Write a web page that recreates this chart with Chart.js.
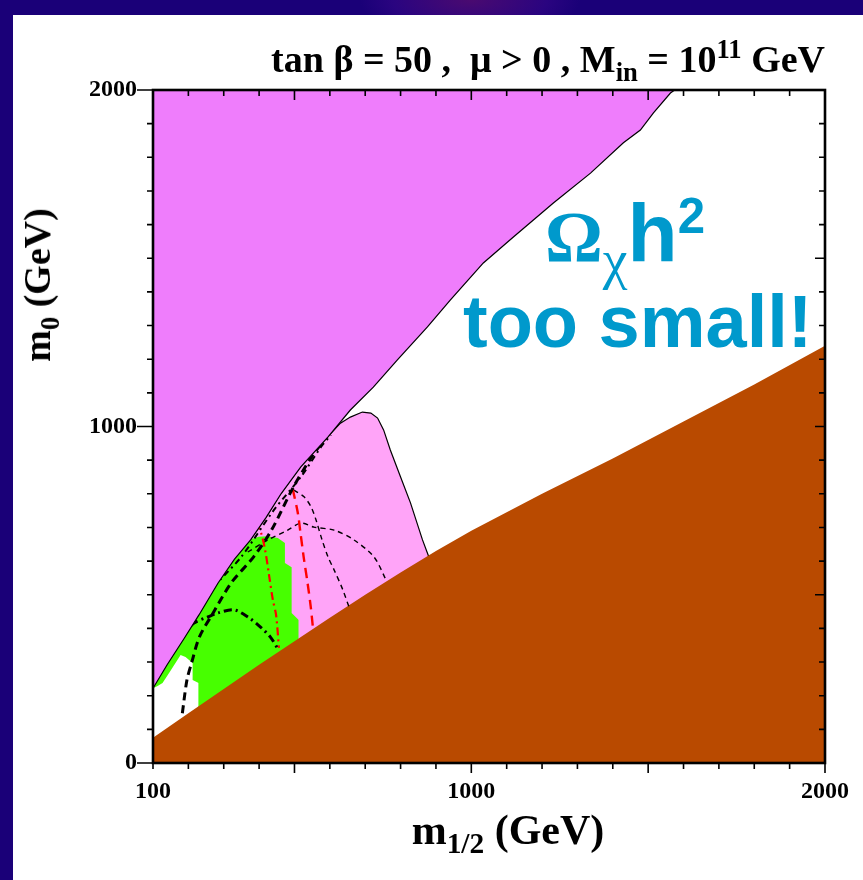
<!DOCTYPE html>
<html>
<head>
<meta charset="utf-8">
<script src="https://cdn.jsdelivr.net/npm/chart.js@4.4.0/dist/chart.umd.min.js"></script>
<style>
  html, body { margin: 0; padding: 0; }
  body {
    width: 863px; height: 880px; overflow: hidden; position: relative;
    background: radial-gradient(ellipse 110px 40px at 470px 0px, #4a0a70 0%, #2a0480 70%, rgba(26,0,120,0) 100%), #1a0078;
  }
  #panel { position: absolute; left: 13px; top: 15px; right: 0; bottom: 0; background: #fff; }
  #chart { position: absolute; left: 0; top: 0; }
  .serif { position: absolute; font-family: "Liberation Serif", "Times New Roman", serif; font-weight: bold; color: #000; white-space: nowrap; }
  .note { position: absolute; font-family: "Liberation Sans", Arial, sans-serif; font-weight: bold; color: #0099cc; white-space: nowrap; }
  sub, sup { font-size: 70%; line-height: 0; }
</style>
</head>
<body>
<div id="panel"></div>
<canvas id="chart" width="863" height="880"></canvas>

<div class="serif" id="title" style="right:38px; top:37px; font-size:38px;">tan &beta; = 50 ,&nbsp; &mu; &gt; 0 , M<sub>in</sub> = 10<sup>11</sup> GeV</div>
<div class="serif" id="ytitle" style="left:37px; top:285px; font-size:38px; transform: translate(-50%,-50%) rotate(-90deg);">m<sub>0</sub> (GeV)</div>
<div class="serif" id="xtitle" style="left:508px; top:830px; font-size:42px; transform: translate(-50%,-50%);">m<sub>1/2</sub> (GeV)</div>
<div class="note" style="left:545px; top:186px; font-size:82px;"><span style="font-family:'Liberation Serif',serif;font-weight:bold;font-size:88%;">&Omega;</span><sub style="font-family:'Liberation Serif',serif;font-weight:normal;font-size:68%;">&chi;</sub>h<sup style="font-size:60%;">2</sup></div>
<div class="note" style="left:463px; top:279px; font-size:74px;">too small!</div>

<script>
// ── axis ranges & ticks ──
const X_MIN = 100, X_MAX = 2000;
const Y_MIN = 0, Y_MAX = 2000;
const xLabels = [100, 1000, 2000];
const yLabels = [0, 1000, 2000];

// ── regions (m1/2, m0) in GeV ──
// boundary of the charged-LSP (magenta) region
const chargedBoundary = [[100,222],[140,292],[188,370],[230,440],[284,535],[330,605],[376,663],[420,730],[462,800],[518,880],[595,969],[658,1049],[723,1117],[791,1198],[876,1296],[941,1376],[1034,1486],[1119,1563],[1232,1664],[1337,1753],[1430,1843],[1478,1881],[1515,1932],[1563,1991],[1575,2000]];
// light pink g-2 region (left edge follows the boundary)
const pinkRegion = [[100,224],[140,294],[188,372],[230,442],[284,537],[330,607],[376,665],[420,732],[462,802],[518,882],[595,971],[630,1010],[658,1028],[692,1043],[716,1040],[735,1025],[752,990],[771,930],[800,850],[828,773],[862,663],[880,612],[900,540]];
// green b->s gamma excluded region
const greenRegion = [[100,224],[140,294],[188,372],[230,442],[284,537],[330,607],[376,665],[399,672],[422,674],[453,669],[473,654],[473,594],[492,582],[492,446],[512,425],[512,330]];
// small white patch at low m1/2
const whitePatch = [[100,222],[113,229],[127,238],[150,275],[178,321],[192,315],[212,297],[212,247],[229,238],[229,140]];
// brown stau-LSP region
const stauBoundary = [[100,75],[200,148],[300,220],[400,292],[500,362],[600,432],[700,500],[800,566],[900,630],[1000,690],[1200,800],[1400,905],[1600,1015],[1800,1125],[2000,1240]];

// ── contours ──
const lineA = [[183,148],[196,247],[209,297],[231,374],[270,446],[321,535],[384,612],[435,692],[497,820],[548,909],[580,955]];
const lineE = [[142,327],[200,420],[264,514],[349,612],[442,752],[518,850],[575,939],[603,975]];
const lineB = [[142,327],[188,386],[216,416],[255,434],[284,446],[329,455],[368,434],[404,404],[432,374],[455,336]];
const redDashDot = [[391,716],[405,686],[417,633],[428,559],[439,484],[448,440],[456,342]];
const redDashed = [[495,814],[509,746],[517,684],[526,612],[537,535],[546,464],[552,404]];
const lineC = [[498,811],[527,791],[547,761],[561,722],[578,663],[595,612],[612,574],[637,514],[654,464]];
const lineD = [[368,627],[425,663],[481,692],[518,713],[555,701],[612,692],[668,663],[725,612],[759,544]];

const MAGENTA = '#ef7dfc', PINK = '#ffa4f8', GREEN = '#47ff00', BROWN = '#b94a00';

const pts = arr => arr.map(p => ({x: p[0], y: p[1]}));

function area(data, color, fill, order, border) {
    return {
        data: pts(data), showLine: true, pointRadius: 0, fill: fill,
        backgroundColor: color, borderColor: border || color,
        borderWidth: border ? 1.2 : 0, order: order, tension: 0
    };
}
function contour(data, color, width, dash, order) {
    return {
        data: pts(data), showLine: true, pointRadius: 0, fill: false,
        borderColor: color, borderWidth: width, borderDash: dash,
        order: order, tension: 0.3
    };
}

// ── frame & tick marks ──
const framePlugin = {
    id: 'frame',
    afterDraw(chart) {
        const {ctx, chartArea: a, scales: {x, y}} = chart;
        ctx.save();
        ctx.strokeStyle = '#000';
        ctx.lineWidth = 1.6;
        ctx.beginPath();
        x.ticks.forEach(t => {
            const px = x.getPixelForValue(t.value);
            const len = t.value % 500 === 0 ? 10 : 6;
            ctx.moveTo(px, a.bottom); ctx.lineTo(px, a.bottom + len);
            ctx.moveTo(px, a.top); ctx.lineTo(px, a.top + len);
        });
        y.ticks.forEach(t => {
            const py = y.getPixelForValue(t.value);
            const lenL = yLabels.includes(t.value) ? 16 : 6;
            const lenR = t.value % 500 === 0 ? 10 : 6;
            ctx.moveTo(a.left, py); ctx.lineTo(a.left - lenL, py);
            ctx.moveTo(a.right, py); ctx.lineTo(a.right - lenR, py);
        });
        ctx.stroke();
        ctx.lineWidth = 2.6;
        ctx.strokeRect(a.left, a.top, a.right - a.left, a.bottom - a.top);
        ctx.restore();
    }
};

const tickFont = {family: '"Liberation Serif", "Times New Roman", serif', size: 24, weight: 'bold'};

new Chart(document.getElementById('chart'), {
    type: 'scatter',
    data: {
        datasets: [
            area(pinkRegion, PINK, 'start', 20, '#000'),
            area(greenRegion, GREEN, 'start', 19),
            area(whitePatch, '#ffffff', 'start', 18),
            area(stauBoundary, BROWN, 'start', 17),
            contour(lineC, '#000', 1.4, [5, 4], 10),
            contour(lineD, '#000', 1.4, [5, 4], 10),
            contour(redDashed, '#ff0000', 2.4, [10, 6], 9),
            contour(redDashDot, '#ff0000', 2.2, [8, 4, 2, 4], 9),
            contour(lineB, '#000', 3, [8, 4, 2, 4], 8),
            contour(lineE, '#000', 2, [6, 4, 2, 4], 8),
            contour(lineA, '#000', 3, [8, 5], 8),
            area(chargedBoundary, MAGENTA, 'end', 2, '#000')
        ]
    },
    options: {
        responsive: false,
        animation: false,
        layout: {padding: {top: 90, right: 38, left: 0, bottom: 0}},
        plugins: {legend: {display: false}, tooltip: {enabled: false}},
        scales: {
            x: {
                type: 'linear', min: X_MIN, max: X_MAX,
                afterFit: s => { s.height = 117; },
                border: {display: false},
                grid: {display: false, drawTicks: true, tickLength: 10},
                ticks: {
                    stepSize: 100, autoSkip: false, maxRotation: 0, padding: 4,
                    color: '#000', font: tickFont,
                    callback: v => xLabels.includes(v) ? String(v) : ''
                }
            },
            y: {
                type: 'linear', min: Y_MIN, max: Y_MAX,
                afterFit: s => { s.width = 153; },
                border: {display: false},
                grid: {display: false, drawTicks: true, tickLength: 16},
                ticks: {
                    stepSize: 100, autoSkip: false, padding: 0,
                    color: '#000', font: tickFont,
                    callback: v => yLabels.includes(v) ? String(v) : ''
                }
            }
        }
    },
    plugins: [framePlugin]
});
</script>
</body>
</html>
